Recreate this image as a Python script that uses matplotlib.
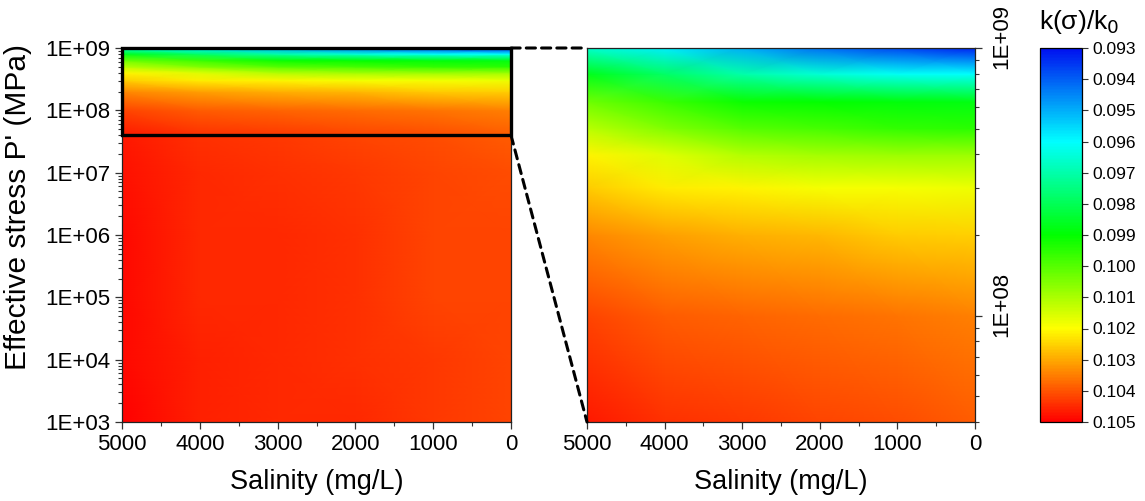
import numpy as np
import matplotlib
matplotlib.use("Agg")
import matplotlib.pyplot as plt
from matplotlib.colors import LinearSegmentedColormap, Normalize
from matplotlib.patches import Rectangle, ConnectionPatch
from matplotlib.ticker import FixedLocator, FuncFormatter, LogLocator, MultipleLocator, NullFormatter
import matplotlib.cm as cm

plt.rcParams['font.family'] = ['Liberation Sans', 'DejaVu Sans']

# ---- data ----
salinity = [0, 1000, 2000, 3000, 4000, 5000]          # mg/L
stress = [1e3, 1e4, 1e5, 1e6, 1e7, 4e7, 1e8, 2e8, 3e8, 4e8, 5e8, 6.3e8, 8e8, 1e9]  # MPa
k_ratio = [
    [0.1042, 0.1043, 0.1045, 0.1045, 0.1046, 0.1050],  # 1e3
    [0.1042, 0.1043, 0.1044, 0.1045, 0.1046, 0.1049],  # 1e4
    [0.1042, 0.1042, 0.1044, 0.1045, 0.1045, 0.1049],  # 1e5
    [0.1042, 0.1042, 0.1044, 0.1045, 0.1045, 0.1049],  # 1e6
    [0.1041, 0.1042, 0.1043, 0.1044, 0.1045, 0.1048],  # 1e7
    [0.1039, 0.1041, 0.1042, 0.1043, 0.1044, 0.1047],  # 4e7
    [0.1035, 0.1036, 0.1037, 0.1038, 0.1039, 0.1042],  # 1e8
    [0.10253, 0.1026, 0.1028, 0.1029, 0.1031, 0.1034], # 2e8
    [0.1018, 0.1019, 0.1019, 0.1021, 0.1022, 0.1026],  # 3e8
    [0.1008, 0.1008, 0.1009, 0.1011, 0.1016, 0.1021],  # 4e8
    [0.0995, 0.0996, 0.0998, 0.1000, 0.1005, 0.1012],  # 5e8
    [0.0988, 0.0989, 0.0990, 0.0991, 0.0997, 0.1003],  # 6.3e8
    [0.0960, 0.0961, 0.0965, 0.0970, 0.0978, 0.0987],  # 8e8
    [0.0932, 0.0937, 0.0942, 0.0950, 0.0958, 0.0966],  # 1e9
]
cbar_ticks = [0.093, 0.094, 0.095, 0.096, 0.097, 0.098, 0.099, 0.100,
              0.101, 0.102, 0.103, 0.104, 0.105]
main_major = [1e3, 1e4, 1e5, 1e6, 1e7, 1e8, 1e9]
zoom_range = [4e7, 1e9]
zoom_major = [1e8, 1e9]

cmap = LinearSegmentedColormap.from_list(
    "rb", [(0.0, "#0010f0"), (0.25, "#00ffff"), (0.5, "#00ff00"),
           (0.75, "#ffff00"), (1.0, "#ff0000")])
norm = Normalize(vmin=0.093, vmax=0.105)

W, H = 1145, 501
fig = plt.figure(figsize=(W / 100, H / 100), dpi=100)

def box(x0, x1, y0, y1):
    return [x0 / W, 1 - y1 / H, (x1 - x0) / W, (y1 - y0) / H]

ax1 = fig.add_axes(box(122, 511, 48, 422))
ax2 = fig.add_axes(box(587, 975, 48, 422))
cax = fig.add_axes(box(1040, 1082, 48, 422))

X, Y = np.meshgrid(np.array(salinity, float), np.array(stress, float))
C = np.array(k_ratio)

fmt_sci = FuncFormatter(lambda v, p: "1E+%02d" % int(round(np.log10(v))))

for ax in (ax1, ax2):
    ax.set_yscale('log')
    ax.pcolormesh(X, Y, C, shading='gouraud', cmap=cmap, norm=norm, rasterized=True)
    ax.set_xlim(5000, 0)
    ax.xaxis.set_major_locator(MultipleLocator(1000))
    ax.xaxis.set_minor_locator(MultipleLocator(500))
    ax.set_xlabel("Salinity (mg/L)", fontsize=19.5, labelpad=10)
    for s in ax.spines.values():
        s.set_linewidth(0.9)
        s.set_color('#222222')
    ax.tick_params(axis='both', which='major', direction='out', length=5,
                   width=0.9, labelsize=16, color='#333333')
    ax.tick_params(axis='both', which='minor', direction='out', length=3,
                   width=0.8, color='#333333')

ax1.set_ylim(1e3, 1e9)
ax1.yaxis.set_major_locator(FixedLocator(main_major))
ax1.yaxis.set_minor_locator(LogLocator(base=10, subs=np.arange(2, 10), numticks=20))
ax1.yaxis.set_major_formatter(fmt_sci)
ax1.yaxis.set_minor_formatter(NullFormatter())
ax1.set_ylabel("Effective stress P' (MPa)", fontsize=21.5)
ax1.yaxis.set_label_coords(-0.232, 0.575)

ax2.set_ylim(*zoom_range)
ax2.yaxis.tick_right()
ax2.yaxis.set_major_locator(FixedLocator(zoom_major))
ax2.yaxis.set_minor_locator(LogLocator(base=10, subs=np.arange(2, 10), numticks=20))
ax2.yaxis.set_major_formatter(NullFormatter())
ax2.yaxis.set_minor_formatter(NullFormatter())
for v in zoom_major:
    ax2.annotate(fmt_sci(v, 0), xy=(1.0, v), xycoords=ax2.get_yaxis_transform(),
                 xytext=(19, 8), textcoords='offset points', rotation=90,
                 ha='center', va='center', fontsize=16, annotation_clip=False)

# zoom rectangle on left plot
rect = Rectangle((5000, zoom_range[0]), -5000, zoom_range[1] - zoom_range[0],
                 fill=False, edgecolor='black', linewidth=2.4, clip_on=False, zorder=5)
ax1.add_patch(rect)

for yv in zoom_range:
    con = ConnectionPatch(xyA=(0, yv), coordsA=ax1.transData,
                          xyB=(5000, yv), coordsB=ax2.transData,
                          linestyle=(0, (3, 2)), linewidth=2.2, color='black', zorder=6)
    fig.add_artist(con)

# colorbar
sm = cm.ScalarMappable(norm=norm, cmap=cmap)
cb = fig.colorbar(sm, cax=cax)
cb.ax.set_ylim(0.093, 0.105)
cb.ax.invert_yaxis()
cb.ax.yaxis.set_major_locator(FixedLocator(cbar_ticks))
cb.ax.yaxis.set_major_formatter(FuncFormatter(lambda v, p: "%.3f" % v))
cb.ax.minorticks_off()
cb.ax.tick_params(labelsize=12.5, length=4, width=0.8, direction='out', color='#333333')
cb.outline.set_linewidth(0.9)
fig.text(1079 / W, 1 - 22 / H, "k(σ)/k$_0$", ha='center', va='center', fontsize=19)

fig.savefig("out.png", dpi=100)
